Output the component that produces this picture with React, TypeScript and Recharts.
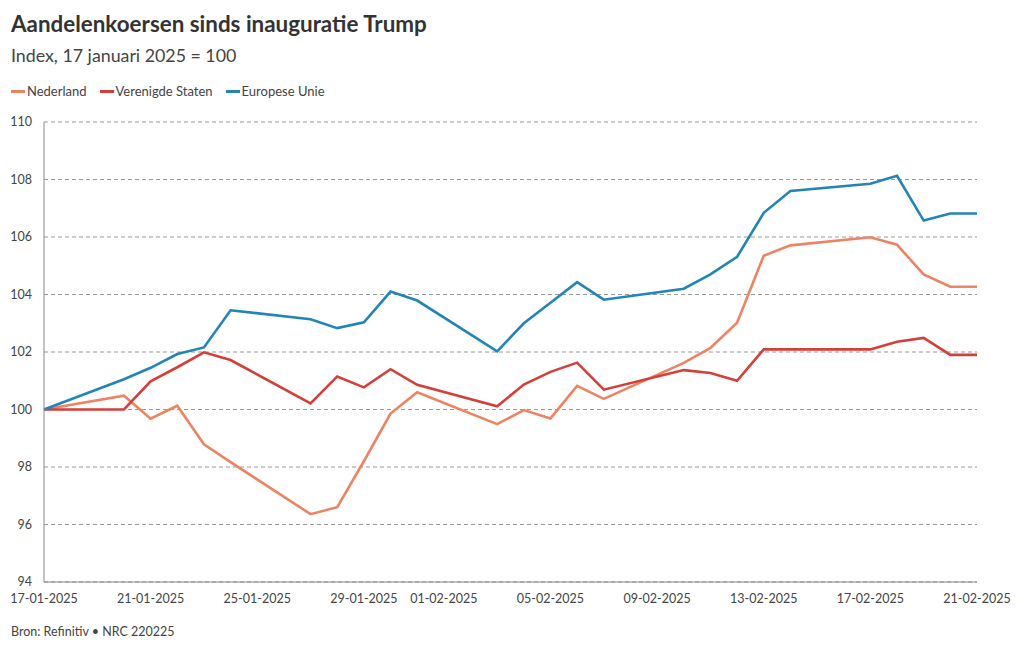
import { LineChart, Line, XAxis, YAxis, CartesianGrid } from 'recharts'

// handelsdagen (dd-mm-yyyy)
const dates = [
  '17-01-2025', '20-01-2025', '21-01-2025', '22-01-2025', '23-01-2025', '24-01-2025',
  '27-01-2025', '28-01-2025', '29-01-2025', '30-01-2025', '31-01-2025',
  '03-02-2025', '04-02-2025', '05-02-2025', '06-02-2025', '07-02-2025',
  '10-02-2025', '11-02-2025', '12-02-2025', '13-02-2025', '14-02-2025',
  '17-02-2025', '18-02-2025', '19-02-2025', '20-02-2025', '21-02-2025',
]

const nederland = [
  100, 100.48, 99.68, 100.13, 98.79, 98.17,
  96.36, 96.6, 98.2, 99.86, 100.6,
  99.49, 99.98, 99.69, 100.82, 100.37,
  101.62, 102.14, 103.02, 105.35, 105.71,
  105.99, 105.73, 104.7, 104.27, 104.27,
]

const verenigdeStaten = [
  100, 100, 100.98, 101.47, 101.99, 101.72,
  100.21, 101.15, 100.77, 101.4, 100.86,
  100.11, 100.87, 101.31, 101.63, 100.69,
  101.37, 101.27, 101.0, 102.09, 102.09,
  102.09, 102.36, 102.49, 101.9, 101.9,
]

const europeseUnie = [
  100, 101.05, 101.45, 101.93, 102.16, 103.45,
  103.14, 102.83, 103.03, 104.1, 103.79,
  102.02, 103.0, 103.71, 104.43, 103.82,
  104.2, 104.7, 105.31, 106.84, 107.6,
  107.85, 108.13, 106.57, 106.82, 106.82,
]

const xTickLabels = [
  '17-01-2025', '21-01-2025', '25-01-2025', '29-01-2025', '01-02-2025',
  '05-02-2025', '09-02-2025', '13-02-2025', '17-02-2025', '21-02-2025',
]
const yTicks = [94, 96, 98, 100, 102, 104, 106, 108, 110]

const series = [
  { key: 'nl', name: 'Nederland', color: '#EC8464', values: nederland },
  { key: 'us', name: 'Verenigde Staten', color: '#D43F3A', values: verenigdeStaten },
  { key: 'eu', name: 'Europese Unie', color: '#2384B8', values: europeseUnie },
]

const FONT = '"Source Sans Pro", Lato, sans-serif'
const DAY = 24 * 3600 * 1000

function toTime(s: string): number {
  const [d, m, y] = s.split('-').map(Number)
  return Date.UTC(y, m - 1, d)
}

const start = toTime(dates[0])
const dayOf = (s: string) => Math.round((toTime(s) - start) / DAY)

const data = dates.map((d, i) => ({
  day: dayOf(d),
  nl: nederland[i],
  us: verenigdeStaten[i],
  eu: europeseUnie[i],
}))

const xTicks = xTickLabels.map(dayOf)

function formatDay(v: number): string {
  const t = new Date(start + v * DAY)
  const dd = String(t.getUTCDate()).padStart(2, '0')
  const mm = String(t.getUTCMonth() + 1).padStart(2, '0')
  return `${dd}-${mm}-${t.getUTCFullYear()}`
}

export default function App() {
  return (
    <div
      style={{
        position: 'absolute',
        left: 0,
        top: 0,
        width: 1020,
        height: 650,
        background: '#fff',
        fontFamily: FONT,
        color: '#333',
      }}
    >
      <div style={{ position: 'absolute', left: 11, top: 10, fontSize: 22.4, fontWeight: 700, color: '#333' }}>
        Aandelenkoersen sinds inauguratie Trump
      </div>
      <div style={{ position: 'absolute', left: 11, top: 44, fontSize: 17.8, color: '#444' }}>
        Index, 17 januari 2025 = 100
      </div>
      <div style={{ position: 'absolute', left: 11, top: 83, display: 'flex', fontSize: 13, color: '#444' }}>
        {series.map((s) => (
          <div key={s.key} style={{ display: 'flex', alignItems: 'center', marginRight: 13 }}>
            <span style={{ display: 'inline-block', width: 14, height: 3, background: s.color, marginRight: 2 }} />
            {s.name}
          </div>
        ))}
      </div>

      <div style={{ position: 'absolute', left: 0, top: 0 }}>
        <LineChart
          width={1020}
          height={650}
          data={data}
          margin={{ top: 122, right: 43, bottom: 38, left: 10 }}
        >
          <CartesianGrid vertical={false} stroke="#999" strokeDasharray="4 3" />
          <XAxis
            dataKey="day"
            type="number"
            domain={[0, 35]}
            ticks={xTicks}
            tickFormatter={formatDay}
            height={30}
            tickLine={false}
            axisLine={{ stroke: '#888' }}
            tick={{ fill: '#444', fontSize: 12.5, fontFamily: FONT }}
            tickMargin={6}
            interval={0}
          />
          <YAxis
            type="number"
            domain={[94, 110]}
            ticks={yTicks}
            width={34}
            tickLine={false}
            axisLine={{ stroke: '#888' }}
            tick={{ fill: '#444', fontSize: 12.5, fontFamily: FONT }}
            tickMargin={6}
            interval={0}
          />
          {series.map((s) => (
            <Line
              key={s.key}
              dataKey={s.key}
              name={s.name}
              stroke={s.color}
              strokeWidth={2.6}
              dot={false}
              type="linear"
              isAnimationActive={false}
            />
          ))}
        </LineChart>
      </div>

      <div style={{ position: 'absolute', left: 11, top: 624, fontSize: 12.5, color: '#444' }}>
        Bron: Refinitiv • NRC 220225
      </div>
    </div>
  )
}
